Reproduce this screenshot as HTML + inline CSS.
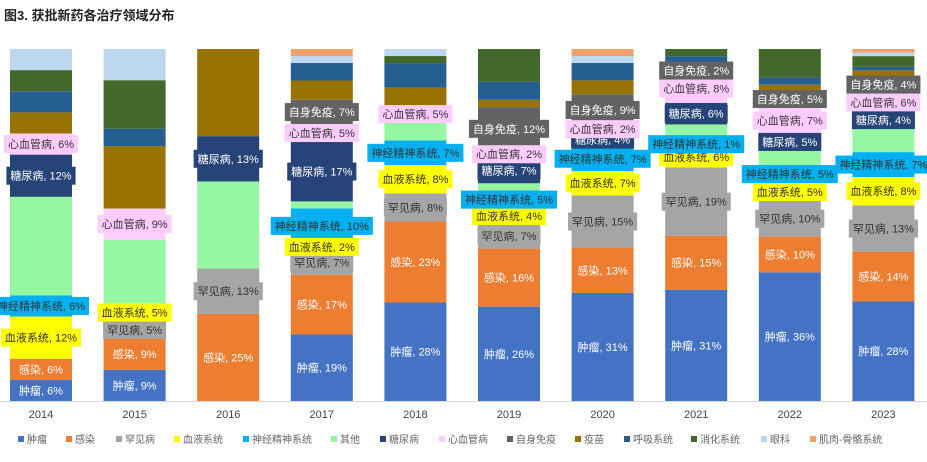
<!DOCTYPE html>
<html><head><meta charset="utf-8"><style>
html,body{margin:0;padding:0;background:#fff;}
body{width:927px;height:457px;overflow:hidden;font-family:"Liberation Sans","Noto Sans CJK SC",sans-serif;}
svg text{font-family:"Liberation Sans","Noto Sans CJK SC",sans-serif;}
</style></head><body>
<svg id="chart" width="927" height="457" viewBox="0 0 927 457">
<text x="4" y="20" font-size="13" font-weight="bold" fill="#222">图3. 获批新药各治疗领域分布</text>
<line x1="0" y1="401.5" x2="927" y2="401.5" stroke="#d9d9d9"/>
<g id="bars"></g><g id="labels"></g><g id="xlabels"></g><g id="legend"></g>
</svg>
<script>
const years=['2014','2015','2016','2017','2018','2019','2020','2021','2022','2023'];
const seriesNames=['肿瘤','感染','罕见病','血液系统','神经精神系统','其他','糖尿病','心血管病','自身免疫','疫苗','呼吸系统','消化系统','眼科','肌肉-骨骼系统'];
const tumor=[6,9,0,19,28,26,31,31,36,28];
const infection=[6,9,25,17,23,16,13,15,10,14];
const rare=[0,5,13,7,8,7,15,19,10,13];
const blood=[12,5,0,2,8,4,7,6,5,8];
const neuro=[6,0,0,10,7,5,7,1,5,7];
const other=[28,18.5,25,2,5,2,0,5,4,7];
const diabetes=[12,0,13,17,0,7,4,6,5,4];
const cardio=[6,9,0,5,5,2,2,8,7,6];
const autoimmune=[0,0,0,7,0,12,9,2,5,4];
const vaccine=[6,18,25,5.5,5,2,4,0,1.5,2];
const respiratory=[6,5,0,5,7,5,5,3,2,1];
const digestive=[6,14,0,0,2,9,0,2,8,3];
const eye=[6,9,0,2,2,0,2,0,0,1];
const muscle=[0,0,0,2,0,0,2,0,0,1];
const allSeries=[tumor,infection,rare,blood,neuro,other,diabetes,cardio,autoimmune,vaccine,respiratory,digestive,eye,muscle];
const colors=['#4472c4','#ed7d31','#a5a5a5','#ffff00','#00b0f0','#96f7a2','#264478','#ffccff','#636363','#997300','#255e91','#43682b','#bdd7ee','#f4a06b'];
const slugs=['tumor','infection','rare-disease','blood-system','neuro-psych','other','diabetes','cardiovascular','autoimmune','vaccine','respiratory','digestive','ophthalmology','musculoskeletal'];
// label styles: [bg, text color] ; null bg = no box
const labelBg=[null,null,'#a5a5a5','#ffff00','#00b0f0',null,'#264478','#ffccff','#636363'];
const labelFg=['#fff','#fff','#333','#333','#333',null,'#fff','#333','#fff'];
const NS='http://www.w3.org/2000/svg';
const plotTop=49,plotBottom=401,plotH=plotBottom-plotTop;
function xPos(i){return 10+i*93.6;}
const barW=62;
function yScale(frac){return plotBottom-frac*plotH;}
const gb=document.getElementById('bars'),gl=document.getElementById('labels'),gx=document.getElementById('xlabels'),gleg=document.getElementById('legend');
years.forEach((yr,i)=>{
  let total=0;allSeries.forEach(s=>total+=s[i]);
  let cum=0;
  allSeries.forEach((s,k)=>{
    const v=s[i];if(v<=0)return;
    const y0=yScale(cum/total),y1=yScale((cum+v)/total);
    const r=document.createElementNS(NS,'rect');
    r.setAttribute('x',xPos(i));r.setAttribute('y',y1);r.setAttribute('width',barW);r.setAttribute('height',y0-y1);r.setAttribute('fill',colors[k]);
    
    
    gb.appendChild(r);
    if(k<=8&&k!==5){
      const cy=(y0+y1)/2,cx=xPos(i)+barW/2;
      const g=document.createElementNS(NS,'g');
      
      
      gl.appendChild(g);
      const t=document.createElementNS(NS,'text');
      t.setAttribute('x',cx);t.setAttribute('y',cy+4);t.setAttribute('text-anchor','middle');t.setAttribute('font-size','11');t.setAttribute('fill',labelFg[k]);
      t.textContent=seriesNames[k]+', '+Math.round(v)+'%';
      if(labelBg[k]){
        const b=document.createElementNS(NS,'rect');
        g.appendChild(b);g.appendChild(t);
        const w=t.getComputedTextLength()+8;
        b.setAttribute('x',cx-w/2);b.setAttribute('y',cy-9);b.setAttribute('width',w);b.setAttribute('height',18);b.setAttribute('fill',labelBg[k]);
      } else g.appendChild(t);
    }
    cum+=v;
  });
  const t=document.createElementNS(NS,'text');
  t.setAttribute('x',xPos(i)+barW/2);t.setAttribute('y',418);t.setAttribute('text-anchor','middle');t.setAttribute('font-size','11');t.setAttribute('fill','#444');
  
  
  t.textContent=yr;gx.appendChild(t);
});
const legX=[18,66,116,174,243,331,380,439,507,575,624,691,761,810];
seriesNames.forEach((n,k)=>{
  const g=document.createElementNS(NS,'g');
  
  
  const r=document.createElementNS(NS,'rect');
  r.setAttribute('x',legX[k]);r.setAttribute('y',436);r.setAttribute('width',6);r.setAttribute('height',6);r.setAttribute('fill',colors[k]);
  const t=document.createElementNS(NS,'text');
  t.setAttribute('x',legX[k]+9);t.setAttribute('y',443);t.setAttribute('font-size','10');t.setAttribute('fill','#666');t.textContent=n;
  g.appendChild(r);g.appendChild(t);gleg.appendChild(g);
});
</script>
</body></html>
